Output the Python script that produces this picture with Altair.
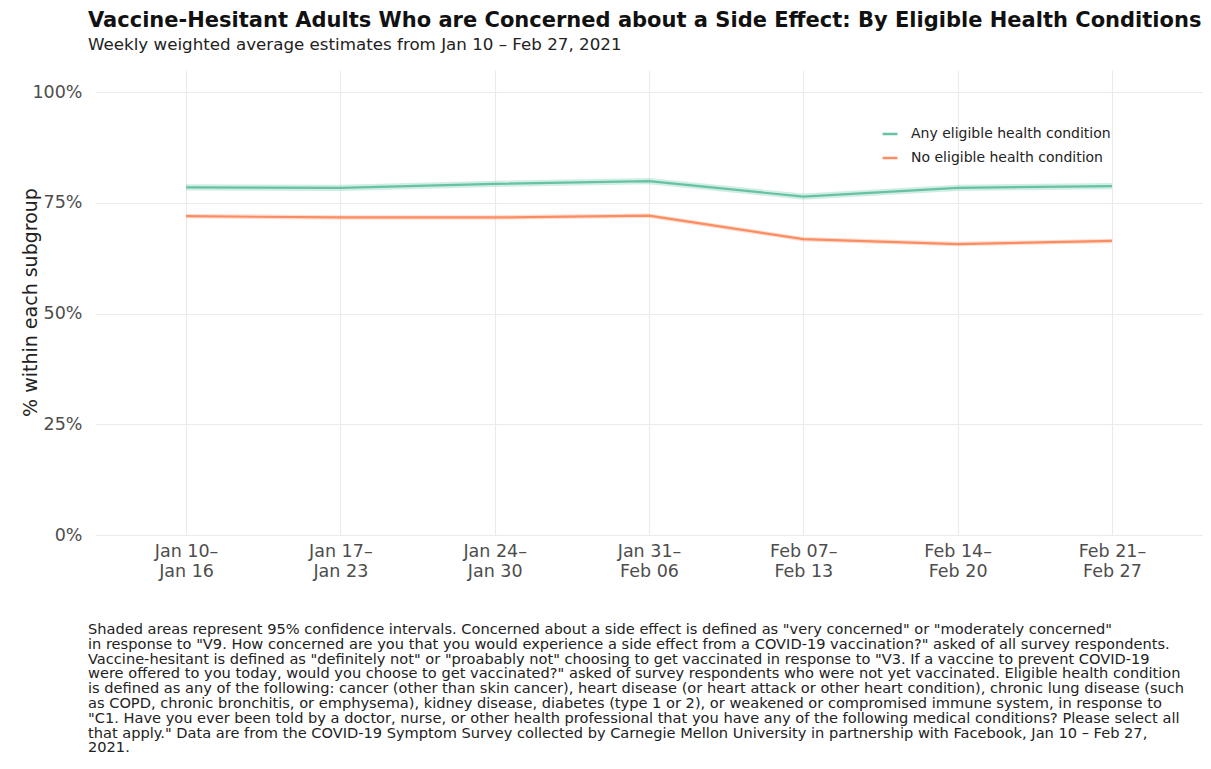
import altair as alt
import pandas as pd

weeks = ["Jan 10–\nJan 16", "Jan 17–\nJan 23", "Jan 24–\nJan 30", "Jan 31–\nFeb 06",
         "Feb 07–\nFeb 13", "Feb 14–\nFeb 20", "Feb 21–\nFeb 27"]
groups = ["Any eligible health condition", "No eligible health condition"]
colors = ["#66C2A5", "#FC8D62"]

any_cond = [0.785, 0.784, 0.793, 0.799, 0.764, 0.784, 0.788]
any_lo = [0.778, 0.777, 0.786, 0.792, 0.757, 0.777, 0.781]
any_hi = [0.792, 0.791, 0.800, 0.806, 0.771, 0.791, 0.795]
no_cond = [0.720, 0.717, 0.717, 0.721, 0.668, 0.657, 0.664]
no_lo = [0.715, 0.712, 0.712, 0.716, 0.663, 0.652, 0.659]
no_hi = [0.725, 0.722, 0.722, 0.726, 0.673, 0.662, 0.669]

title = "Vaccine-Hesitant Adults Who are Concerned about a Side Effect: By Eligible Health Conditions"
subtitle = "Weekly weighted average estimates from Jan 10 – Feb 27, 2021"
y_title = "% within each subgroup"
caption_lines = [
    'Shaded areas represent 95% confidence intervals. Concerned about a side effect is defined as "very concerned" or "moderately concerned"',
    'in response to "V9. How concerned are you that you would experience a side effect from a COVID-19 vaccination?" asked of all survey respondents.',
    'Vaccine-hesitant is defined as "definitely not" or "proabably not" choosing to get vaccinated in response to "V3. If a vaccine to prevent COVID-19',
    'were offered to you today, would you choose to get vaccinated?" asked of survey respondents who were not yet vaccinated. Eligible health condition',
    'is defined as any of the following: cancer (other than skin cancer), heart disease (or heart attack or other heart condition), chronic lung disease (such',
    'as COPD, chronic bronchitis, or emphysema), kidney disease, diabetes (type 1 or 2), or weakened or compromised immune system, in response to',
    '"C1. Have you ever been told by a doctor, nurse, or other health professional that you have any of the following medical conditions? Please select all',
    'that apply." Data are from the COVID-19 Symptom Survey collected by Carnegie Mellon University in partnership with Facebook, Jan 10 – Feb 27,',
    '2021.',
]

rows = []
for i, w in enumerate(weeks):
    rows.append({"week": w, "group": groups[0], "v": any_cond[i], "lo": any_lo[i], "hi": any_hi[i]})
    rows.append({"week": w, "group": groups[1], "v": no_cond[i], "lo": no_lo[i], "hi": no_hi[i]})
df = pd.DataFrame(rows)

FONT = "DejaVu Sans"
W, H = 1108, 465

x_enc = alt.X("week:N", sort=weeks,
              scale=alt.Scale(type="point", padding=0.59),
              axis=alt.Axis(title=None, labelAngle=0, labelExpr="split(datum.label, '\\n')",
                            labelLineHeight=20, labelPadding=7, labelFontSize=17.5,
                            labelColor="#4d4d4d", labelFont=FONT, grid=True))
y_scale = alt.Scale(domain=[0, 1.05], nice=False, zero=False)

legend = alt.Legend(title=None, orient="none", legendX=786, legendY=55,
                    symbolType="stroke", symbolStrokeWidth=2.5, symbolSize=220,
                    symbolOpacity=1, labelLimit=400,
                    labelFontSize=14, labelFont=FONT, labelColor="#222222",
                    labelOffset=12, rowPadding=8, padding=0)
color_enc = alt.Color("group:N", scale=alt.Scale(domain=groups, range=colors), legend=legend)

band = alt.Chart(df).mark_area(fillOpacity=0.3).encode(
    x=x_enc,
    y=alt.Y("lo:Q", scale=y_scale),
    y2="hi:Q",
    color=color_enc,
)

line = alt.Chart(df).mark_line(strokeWidth=2.2).encode(
    x=x_enc,
    y=alt.Y("v:Q", scale=y_scale,
            axis=alt.Axis(title=y_title, values=[0, 0.25, 0.5, 0.75, 1.0], format=".0%",
                          labelFontSize=17.5, labelColor="#4d4d4d", labelFont=FONT, labelPadding=13,
                          titleFontSize=19, titleFont=FONT, titleFontWeight="normal",
                          titleColor="#222222", titleX=-65, titleY=232, titleAngle=-90,
                          titleAlign="center", titleBaseline="middle")),
    color=color_enc,
)

cap_df = pd.DataFrame({"t": ["\n".join(caption_lines)]})
caption = alt.Chart(cap_df).mark_text(
    align="left", baseline="middle", lineBreak="\n", lineHeight=14.8,
    fontSize=14.6, font=FONT, color="#222222",
).encode(x=alt.value(-7), y=alt.value(560), text="t:N")

chart = alt.layer(band, line, caption).properties(
    width=W, height=H,
    title=alt.Title(text=title, subtitle=subtitle, anchor="start", frame="group",
                    dx=-7, offset=16, font=FONT, fontSize=21, fontWeight="bold", color="#111111",
                    subtitleFont=FONT, subtitleFontSize=16.7, subtitleColor="#222222",
                    subtitlePadding=6),
    autosize=alt.AutoSizeParams(type="none"),
    padding={"left": 87, "top": 62, "right": 0, "bottom": 232},
).configure_view(stroke=None).configure_axis(
    domain=False, ticks=False, gridColor="#EBEBEB", gridWidth=1.1,
)

chart.save("out.html", embed_options={"renderer": "svg", "actions": False})
